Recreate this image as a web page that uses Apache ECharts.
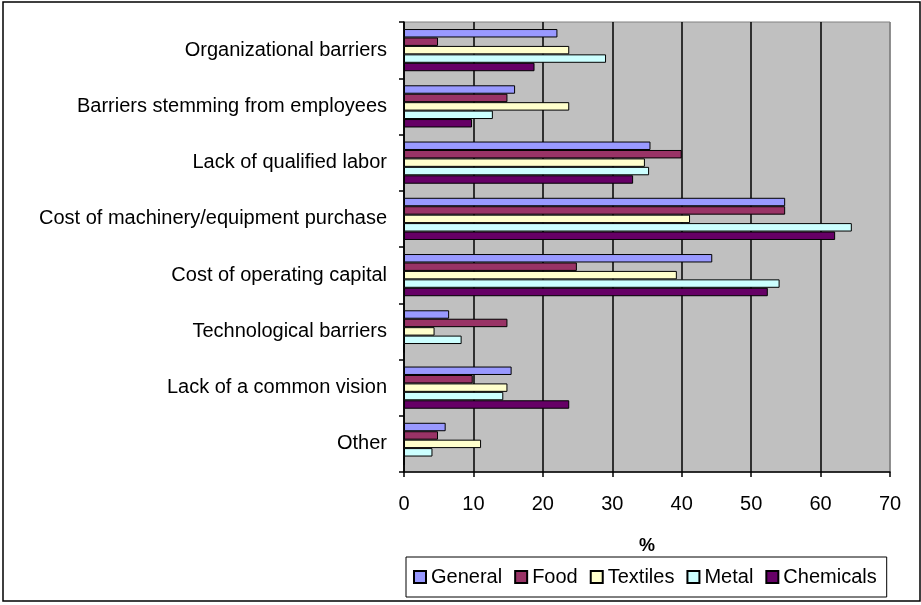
<!DOCTYPE html>
<html>
<head>
    <meta charset="utf-8"/>
    <title>Barriers</title>
    <script src="https://cdn.jsdelivr.net/npm/echarts@6.0.0/dist/echarts.min.js"></script>
    <style>
        html, body { margin: 0; padding: 0; background: #fff; }
    </style>
</head>
<body>
<div id="chart" style="width: 921px;height:605px;"></div>
<script type="text/javascript">
    // categories top to bottom
    var categories = [
        'Organizational barriers',
        'Barriers stemming from employees',
        'Lack of qualified labor',
        'Cost of machinery/equipment purchase',
        'Cost of operating capital',
        'Technological barriers',
        'Lack of a common vision',
        'Other'
    ];
    var seriesNames = ['General', 'Food', 'Textiles', 'Metal', 'Chemicals'];
    var seriesColors = ['#9999FF', '#993366', '#FFFFCC', '#CCFFFF', '#660066'];

    var general   = [22.1, 16.0, 35.5, 54.9, 44.4, 6.5, 15.5, 6.0];
    var food      = [4.9, 14.9, 40.0, 54.9, 24.9, 14.9, 9.9, 4.9];
    var textiles  = [23.8, 23.8, 34.7, 41.2, 39.3, 4.4, 14.9, 11.1];
    var metal     = [29.1, 12.8, 35.3, 64.5, 54.1, 8.3, 14.3, 4.1];
    var chemicals = [18.8, 9.8, 33.0, 62.1, 52.4, 0, 23.8, 0];
    var values = [general, food, textiles, metal, chemicals];

    var font = 'Liberation Sans';

    var option = {
        animation: false,
        backgroundColor: '#fff',
        grid: {
            left: 404,
            right: 31,
            top: 22,
            bottom: 133,
            show: true,
            backgroundColor: '#C0C0C0',
            borderColor: '#808080',
            borderWidth: 1
        },
        legend: {
            data: seriesNames,
            left: 406,
            top: 557,
            orient: 'horizontal',
            icon: 'rect',
            itemWidth: 12,
            itemHeight: 12,
            itemGap: 12,
            padding: [10, 10, 10, 7],
            borderColor: '#000',
            borderWidth: 1,
            textStyle: { fontFamily: font, fontSize: 20, color: '#000' }
        },
        xAxis: {
            type: 'value',
            min: 0,
            max: 70,
            interval: 10,
            name: '%',
            nameLocation: 'middle',
            nameGap: 65,
            nameTextStyle: { fontFamily: font, fontSize: 18, fontWeight: 'bold', color: '#000' },
            axisLine: { show: true, lineStyle: { color: '#000', width: 1.5 } },
            axisTick: { show: true, length: 5, lineStyle: { color: '#000', width: 1.5 } },
            axisLabel: { fontFamily: font, fontSize: 20, color: '#000', margin: 22 },
            splitLine: {
                show: true,
                lineStyle: {
                    color: ['#000', '#000', '#000', '#000', '#000', '#000', '#000', '#808080'],
                    width: 1.5
                }
            }
        },
        yAxis: {
            type: 'category',
            data: categories,
            inverse: true,
            axisLine: { show: true, lineStyle: { color: '#000', width: 1.5 } },
            axisTick: { show: true, length: 5, lineStyle: { color: '#000', width: 1.5 } },
            axisLabel: { fontFamily: font, fontSize: 20, color: '#000', margin: 17 },
            splitLine: { show: false }
        },
        series: seriesNames.map(function (name, i) {
            return {
                name: name,
                type: 'bar',
                data: values[i],
                barGap: '0%',
                barCategoryGap: '25%',
                itemStyle: { color: seriesColors[i], borderColor: '#000', borderWidth: 1 }
            };
        }),
        graphic: [{
            type: 'rect',
            shape: { x: 3, y: 2, width: 917, height: 599 },
            style: { fill: 'none', stroke: '#000', lineWidth: 1.5 },
            silent: true
        }]
    };
    var chart = echarts.init(document.getElementById('chart'));
    chart.setOption(option);
</script>
</body>
</html>
